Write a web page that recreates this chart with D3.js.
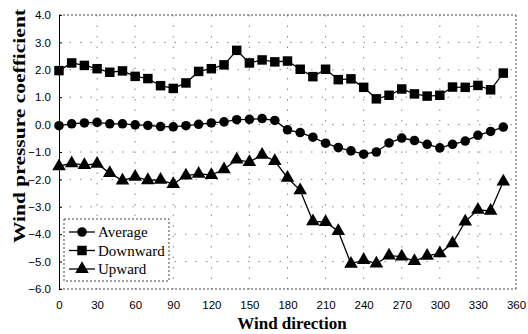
<!DOCTYPE html>
<html>
<head>
<meta charset="utf-8">
<script src="https://cdn.jsdelivr.net/npm/d3@7"></script>
<style>
  body { margin: 0; background: #fff; }
  svg { display: block; }
</style>
</head>
<body>
<svg width="528" height="334"></svg>
<script>
const directions = [0,10,20,30,40,50,60,70,80,90,100,110,120,130,140,150,160,170,
  180,190,200,210,220,230,240,250,260,270,280,290,300,310,320,330,340,350];
const average = [-0.04,0.03,0.06,0.08,0.03,0.03,-0.01,-0.03,-0.07,-0.08,-0.04,0.01,
  0.06,0.10,0.18,0.19,0.22,0.15,-0.19,-0.29,-0.46,-0.68,-0.84,-0.96,-1.08,-1.00,
  -0.67,-0.49,-0.58,-0.72,-0.85,-0.72,-0.60,-0.39,-0.25,-0.09];
const downward = [1.97,2.25,2.16,2.04,1.91,1.96,1.76,1.68,1.42,1.32,1.52,1.94,2.04,
  2.18,2.71,2.25,2.36,2.29,2.32,2.02,1.75,2.02,1.64,1.67,1.36,0.94,1.07,1.30,1.12,
  1.04,1.07,1.37,1.36,1.43,1.27,1.88];
const upward = [-1.52,-1.41,-1.48,-1.43,-1.77,-2.04,-1.91,-2.03,-2.02,-2.17,-1.86,
  -1.80,-1.84,-1.63,-1.28,-1.37,-1.10,-1.33,-1.94,-2.40,-3.53,-3.56,-3.89,-5.08,
  -4.94,-5.07,-4.78,-4.82,-4.98,-4.79,-4.70,-4.33,-3.54,-3.11,-3.15,-2.08];
const seriesNames = ['Average', 'Downward', 'Upward'];
const xTicks = [0,30,60,90,120,150,180,210,240,270,300,330,360];
const yTicks = [4,3,2,1,0,-1,-2,-3,-4,-5,-6];

const svg = d3.select('svg');
const margin = {left: 59, right: 12, top: 15, bottom: 45};
const width = +svg.attr('width'), height = +svg.attr('height');

const x = d3.scaleLinear().domain([0, 360]).range([margin.left, width - margin.right]);
const y = d3.scaleLinear().domain([-6, 4]).range([height - margin.bottom, margin.top]);

// sparse dotted grid
const grid = svg.append('g').attr('stroke', '#888').attr('stroke-width', 1)
  .attr('stroke-dasharray', '1.5,9');
grid.selectAll('.gx').data(xTicks.slice(1, -1)).enter().append('line')
  .attr('x1', d => x(d)).attr('x2', d => x(d))
  .attr('y1', y(4)).attr('y2', y(-6));
grid.selectAll('.gy').data(yTicks.slice(1, -1)).enter().append('line')
  .attr('y1', d => y(d)).attr('y2', d => y(d))
  .attr('x1', x(0)).attr('x2', x(360));

// frame: top/right/bottom dotted, left solid
const frame = svg.append('g').attr('fill', 'none').attr('stroke', '#444')
  .attr('stroke-dasharray', '2,2');
frame.append('line').attr('x1', x(0)).attr('x2', x(360)).attr('y1', y(4)).attr('y2', y(4));
frame.append('line').attr('x1', x(360)).attr('x2', x(360)).attr('y1', y(4)).attr('y2', y(-6));
frame.append('line').attr('x1', x(0)).attr('x2', x(360)).attr('y1', y(-6)).attr('y2', y(-6));

const fmt = d3.format('.1f');
const yAxis = svg.append('g')
  .attr('transform', `translate(${x(0)},0)`)
  .call(d3.axisLeft(y).tickValues(yTicks).tickFormat(fmt).tickSizeInner(-3).tickSizeOuter(0).tickPadding(8));
const xAxis = svg.append('g')
  .attr('transform', `translate(0,${y(-6)})`)
  .call(d3.axisBottom(x).tickValues(xTicks).tickSize(0).tickPadding(12));
xAxis.select('.domain').remove();
yAxis.select('.domain').attr('stroke', '#000');
[xAxis, yAxis].forEach(a => a.selectAll('text')
  .attr('font-family', 'Liberation Sans, Arial, sans-serif')
  .attr('font-size', 11.5).attr('fill', '#000'));

// series
const series = [average, downward, upward].map((vals, i) => ({
  name: seriesNames[i],
  values: vals.map((v, j) => ({dir: directions[j], v}))
}));

const line = d3.line().x(d => x(d.dir)).y(d => y(d.v));
const symbols = [d3.symbolCircle, d3.symbolSquare, d3.symbolTriangle];
const sizes = [72, 90, 80];

series.forEach((s, i) => {
  svg.append('path').datum(s.values)
    .attr('fill', 'none').attr('stroke', '#000').attr('stroke-width', 1.3)
    .attr('d', line);
  svg.append('g').selectAll('path').data(s.values).enter().append('path')
    .attr('transform', d => `translate(${x(d.dir)},${y(d.v)})`)
    .attr('d', d3.symbol().type(symbols[i]).size(sizes[i]))
    .attr('fill', '#000');
});

// legend
const legend = svg.append('g');
legend.append('rect').attr('x', 64).attr('y', 219).attr('width', 105).attr('height', 62)
  .attr('fill', '#fff').attr('stroke', '#444').attr('stroke-dasharray', '2,2');
seriesNames.forEach((name, i) => {
  const ly = 232 + i * 18.5;
  legend.append('line').attr('x1', 69).attr('x2', 95).attr('y1', ly).attr('y2', ly)
    .attr('stroke', '#000').attr('stroke-width', 1.3);
  legend.append('path').attr('transform', `translate(82,${ly})`)
    .attr('d', d3.symbol().type(symbols[i]).size(sizes[i])).attr('fill', '#000');
  legend.append('text').attr('x', 98).attr('y', ly).attr('dy', '0.35em')
    .attr('font-family', 'Liberation Serif, Times New Roman, serif')
    .attr('font-size', 15).text(name);
});

// axis titles
svg.append('text')
  .attr('transform', 'translate(25,243) rotate(-90)')
  .attr('font-family', 'Liberation Serif, Times New Roman, serif')
  .attr('font-size', 17).attr('font-weight', 'bold')
  .attr('textLength', 234).attr('lengthAdjust', 'spacingAndGlyphs')
  .text('Wind pressure coefficient');
svg.append('text')
  .attr('x', 292).attr('y', 329).attr('text-anchor', 'middle')
  .attr('font-family', 'Liberation Serif, Times New Roman, serif')
  .attr('font-size', 17).attr('font-weight', 'bold')
  .text('Wind direction');
</script>
</body>
</html>
